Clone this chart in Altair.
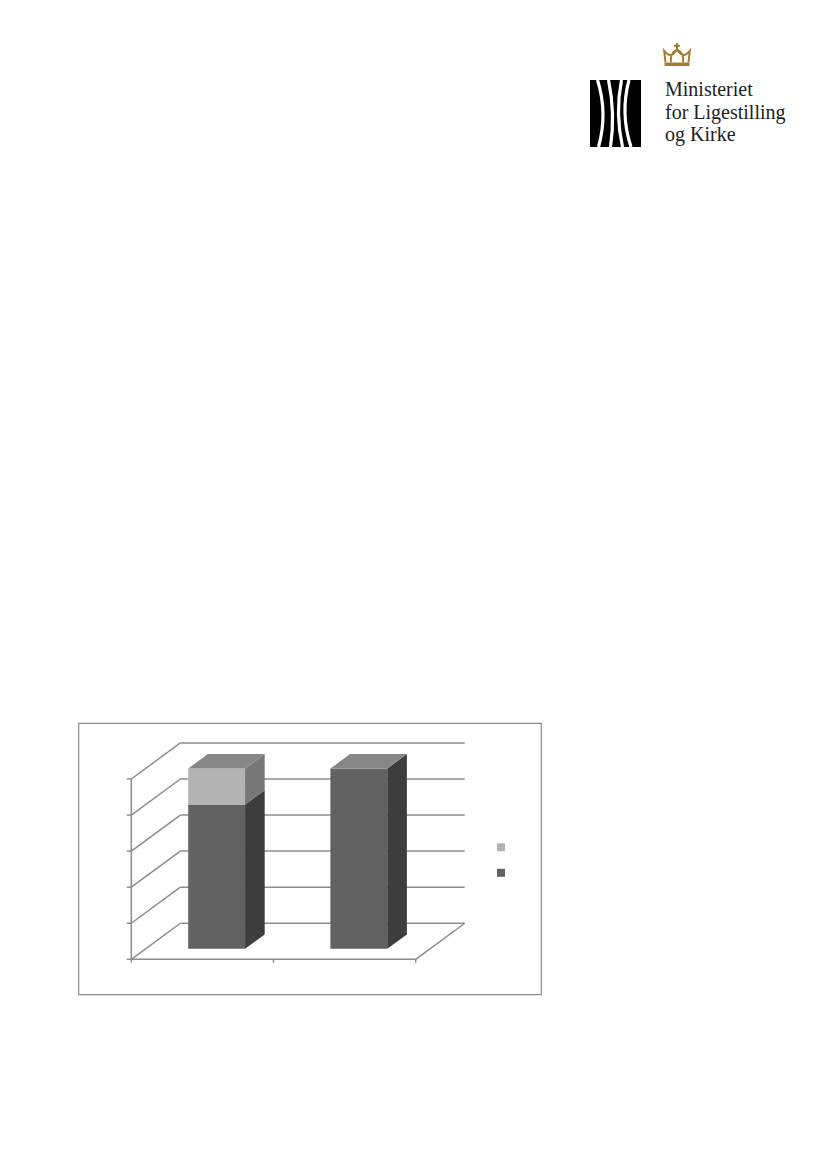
import altair as alt
import pandas as pd

# ---------------- data ----------------
CATEGORIES = ["Kategori 1", "Kategori 2"]
SERIES = ["Serie 1", "Serie 2"]          # stacked bottom -> top
VALUES_S1 = [4, 5]
VALUES_S2 = [1, 0]
Y_TICKS = [0, 1, 2, 3, 4, 5]
LOGO_LINES = ["Ministeriet", "for Ligestilling", "og Kirke"]

# ---------------- style / geometry ----------------
OFF = 8  # page margin
X_DOMAIN = [0, 2]
X_RANGE = [131.3 - OFF, 415.7 - OFF]
Y_DOMAIN = [0, 5]
Y_RANGE = [959.3 - OFF, 779.0 - OFF]
DX, DY = 0.345, 1.0        # depth vector (slot units, value units)
F1, F2 = 0.29, 0.69        # bar front / back depth fraction
BAR_W = 0.4
GRID = "#8c8c8c"
GW = 1.5
FRONT = {"Serie 1": "#626262", "Serie 2": "#b3b3b3"}
SIDE = {"Serie 1": "#3d3d3d", "Serie 2": "#777777"}
TOP = "#878787"

XS = alt.Scale(domain=X_DOMAIN, range=X_RANGE, nice=False, zero=False)
YS = alt.Scale(domain=Y_DOMAIN, range=Y_RANGE, nice=False, zero=False)


def X(f):
    return alt.X(f, type="quantitative", scale=XS, axis=None)


def Y(f):
    return alt.Y(f, type="quantitative", scale=YS, axis=None)


# ---------------- frames ----------------
vals = {"Serie 1": VALUES_S1, "Serie 2": VALUES_S2}
front_rows, side_rows, top_rows = [], [], []
for i, cat in enumerate(CATEGORIES):
    c = i + 0.5
    base = 0
    for s in SERIES:
        v = vals[s][i]
        b, t = base, base + v
        base = t
        if v <= 0:
            continue
        front_rows.append(dict(cat=cat, series=s,
                               x0=c - BAR_W / 2 + F1 * DX, x1=c + BAR_W / 2 + F1 * DX,
                               y0=b + F1 * DY, y1=t + F1 * DY))
        face = f"{cat}-{s}"
        for f in (F1, F2):
            side_rows.append(dict(face=face, col=SIDE[s], x=c + BAR_W / 2 + f * DX,
                                  lo=b + f * DY, hi=t + f * DY))
    for f in (F1, F2):
        top_rows.append(dict(face=cat, y=base + f * DY,
                             xl=c - BAR_W / 2 + f * DX, xr=c + BAR_W / 2 + f * DX))

front_df = pd.DataFrame(front_rows)
side_df = pd.DataFrame(side_rows)
top_df = pd.DataFrame(top_rows)

back_df = pd.DataFrame(dict(v=[t + DY for t in Y_TICKS], x0=DX, x1=X_DOMAIN[1] + DX))
diag_df = pd.DataFrame(dict(x0=0.0, y0=Y_TICKS, x1=DX, y1=[t + DY for t in Y_TICKS]))
floor_df = pd.DataFrame(dict(x0=[X_DOMAIN[1]], y0=[0.0], x1=[X_DOMAIN[1] + DX], y1=[DY]))
laxis_df = pd.DataFrame(dict(x=[0.0], y0=[Y_DOMAIN[0]], y1=[Y_DOMAIN[1]]))
baxis_df = pd.DataFrame(dict(y=[0.0], x0=[X_DOMAIN[0]], x1=[X_DOMAIN[1]]))
ltick_df = pd.DataFrame(dict(x=0.0, v=Y_TICKS))
btick_df = pd.DataFrame(dict(t=[0, 1, 2], y=0.0))
one = pd.DataFrame({"k": [0]})

# ---------------- layers ----------------
back = alt.Chart(back_df).mark_rule(color=GRID, strokeWidth=GW).encode(
    x=X("x0"), x2="x1", y=Y("v"))
diag = alt.Chart(diag_df).mark_rule(color=GRID, strokeWidth=GW).encode(
    x=X("x0"), x2="x1", y=Y("y0"), y2="y1")
floor = alt.Chart(floor_df).mark_rule(color=GRID, strokeWidth=GW).encode(
    x=X("x0"), x2="x1", y=Y("y0"), y2="y1")
laxis = alt.Chart(laxis_df).mark_rule(color=GRID, strokeWidth=GW).encode(
    x=X("x"), y=Y("y0"), y2="y1")
baxis = alt.Chart(baxis_df).mark_rule(color=GRID, strokeWidth=GW).encode(
    x=X("x0"), x2="x1", y=Y("y"))
ltick = alt.Chart(ltick_df).mark_rule(color=GRID, strokeWidth=GW, x2Offset=-4.6).encode(
    x=X("x"), x2="x", y=Y("v"))
btick = alt.Chart(btick_df).mark_rule(color=GRID, strokeWidth=GW, y2Offset=3.4).encode(
    x=X("t"), y=Y("y"), y2="y")

front = alt.Chart(front_df).mark_rect().encode(
    x=X("x0"), x2="x1", y=Y("y0"), y2="y1",
    color=alt.Color("series:N",
                    scale=alt.Scale(domain=["Serie 2", "Serie 1"],
                                    range=[FRONT["Serie 2"], FRONT["Serie 1"]]),
                    legend=alt.Legend(orient="none", legendX=497 - OFF, legendY=843.3 - OFF,
                                      title=None, labelExpr="''", labelOpacity=0,
                                      labelFontSize=1, symbolType="square",
                                      symbolSize=64, symbolStrokeWidth=0, rowPadding=17.5,
                                      padding=0, offset=0)))
side = alt.Chart(side_df).mark_area(orient="vertical").encode(
    x=X("x"), y=Y("lo"), y2="hi", detail="face:N",
    fill=alt.Fill("col:N", scale=None, legend=None))
top = alt.Chart(top_df).mark_area(orient="horizontal", color=TOP).encode(
    y=Y("y"), x=X("xl"), x2="xr", detail="face:N")

border = alt.Chart(one).mark_rect(fillOpacity=0, stroke="#8c8c8c", strokeWidth=1.2).encode(
    x=alt.value(78.7 - OFF), x2=alt.value(541.3 - OFF),
    y=alt.value(723.3 - OFF), y2=alt.value(994.7 - OFF))

# ---------------- logo ----------------
STRIPES = ("M-0.529,-0.985Q-0.222,0,-0.5,0.985"
           "M-0.206,-0.985Q0,0,-0.147,0.985"
           "M0.176,-0.985Q-0.015,0,0.206,0.985"
           "M0.397,-0.985Q0.132,0,0.456,0.985")
CROWN = ("M-0.85,0.55L-0.95,-0.3Q-0.45,0.35,0,-0.4Q0.45,0.35,0.95,-0.3L0.85,0.55"
         "M-0.45,0.55Q-0.55,-0.15,0,-0.4Q0.55,-0.15,0.45,0.55"
         "M0,-0.4L0,-0.88M-0.22,-0.68L0.22,-0.68")
GOLD = "#a97b2d"

logo_block = alt.Chart(one).mark_rect(color="black").encode(
    x=alt.value(590 - OFF), x2=alt.value(641 - OFF),
    y=alt.value(80 - OFF), y2=alt.value(147 - OFF))
logo_stripes = alt.Chart(one).mark_point(
    shape=STRIPES, size=68 * 68, filled=False, stroke="white", strokeWidth=3.2,
    opacity=1, strokeCap="butt").encode(x=alt.value(615.5 - OFF), y=alt.value(113.5 - OFF))
crown = alt.Chart(one).mark_point(
    shape=CROWN, size=27 * 27, filled=False, stroke=GOLD, strokeWidth=2,
    opacity=1).encode(x=alt.value(677 - OFF), y=alt.value(55 - OFF))
crown_band = alt.Chart(one).mark_rect(color=GOLD).encode(
    x=alt.value(664.5 - OFF), x2=alt.value(689.5 - OFF),
    y=alt.value(62.5 - OFF), y2=alt.value(66 - OFF))
logo_text = alt.Chart(pd.DataFrame({"t": ["\n".join(LOGO_LINES)]})).mark_text(
    font="Liberation Serif", fontSize=20, align="left", baseline="alphabetic",
    lineBreak="\n", lineHeight=22.6, color="#1e1e1e").encode(
    x=alt.value(665 - OFF), y=alt.value(96 - OFF), text="t:N")

chart = alt.layer(
    border, back, diag, floor, laxis, baxis, ltick, btick, front, side, top,
    logo_block, logo_stripes, crown, crown_band, logo_text
).properties(width=805, height=1140, autosize="none", padding=0).configure_view(stroke=None)

chart.save("out.html", embed_options={"renderer": "svg", "actions": False})
